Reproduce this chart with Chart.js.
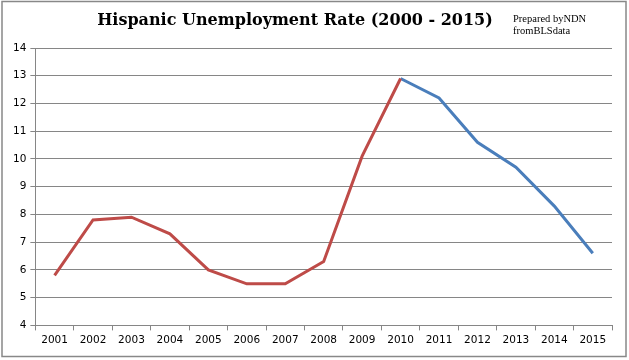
<!DOCTYPE html>
<html>
<head>
<meta charset="utf-8">
<script src="https://cdn.jsdelivr.net/npm/chart.js@4/dist/chart.umd.min.js"></script>
<style>
  html, body { margin: 0; padding: 0; background: #fff; }
  #wrap { position: relative; width: 629px; height: 360px; }
</style>
</head>
<body>
<div id="wrap"><canvas id="lineChart" width="629" height="360"></canvas></div>
<script>
// Gadi un bezdarba līmenis
const years = ['2001', '2002', '2003', '2004', '2005', '2006', '2007', '2008',
               '2009', '2010', '2011', '2012', '2013', '2014', '2015'];
const redRate = [5.8, 7.8, 7.9, 7.3, 6.0, 5.5, 5.5, 6.3, 10.1, 12.9,
                 null, null, null, null, null];
const blueRate = [null, null, null, null, null, null, null, null, null, 12.9,
                  12.2, 10.6, 9.7, 8.3, 6.6];
const yTicks = [4, 14, 1]; // min, max, solis

// Rāmis, virsraksts un piezīme
const decorPlugin = {
    id: 'decor',
    afterDraw(chart) {
        const ctx = chart.ctx;
        ctx.save();
        ctx.strokeStyle = '#888888';
        ctx.lineWidth = 1.5;
        ctx.strokeRect(2, 1.5, 624, 355);
        ctx.fillStyle = '#000';
        ctx.textBaseline = 'middle';
        ctx.textAlign = 'center';
        ctx.font = 'bold 16px "DejaVu Serif"';
        ctx.fillText('Hispanic Unemployment Rate (2000 - 2015)', 295, 21);
        ctx.textAlign = 'left';
        ctx.font = '10.5px "Liberation Serif"';
        ctx.fillText('Prepared byNDN', 513, 19);
        ctx.fillText('fromBLSdata', 513, 31);
        ctx.restore();
    }
};

const ctx = document.getElementById('lineChart').getContext('2d');
new Chart(ctx, {
    type: 'line',
    data: {
        labels: years,
        datasets: [
            {
                data: redRate,
                borderColor: '#BE4B48',
                borderWidth: 3,
                pointRadius: 0,
                tension: 0
            },
            {
                data: blueRate,
                borderColor: '#4A7EBB',
                borderWidth: 3,
                pointRadius: 0,
                tension: 0
            }
        ]
    },
    options: {
        responsive: false,
        animation: false,
        layout: { padding: { left: 9, right: 17, top: 48, bottom: 9 } },
        plugins: {
            legend: { display: false },
            title: { display: false },
            tooltip: { enabled: false }
        },
        scales: {
            x: {
                offset: true,
                grid: { offset: true, drawOnChartArea: false, color: '#868686', tickLength: 5 },
                border: { color: '#868686' },
                ticks: { color: '#000', font: { family: 'DejaVu Sans', size: 10.5 }, maxRotation: 0, autoSkip: false, padding: 4 }
            },
            y: {
                min: yTicks[0],
                max: yTicks[1],
                ticks: { stepSize: yTicks[2], color: '#000', font: { family: 'DejaVu Sans', size: 10.5 }, padding: 4 },
                grid: { color: '#868686', tickLength: 5 },
                border: { color: '#868686' }
            }
        }
    },
    plugins: [decorPlugin]
});
</script>
</body>
</html>
